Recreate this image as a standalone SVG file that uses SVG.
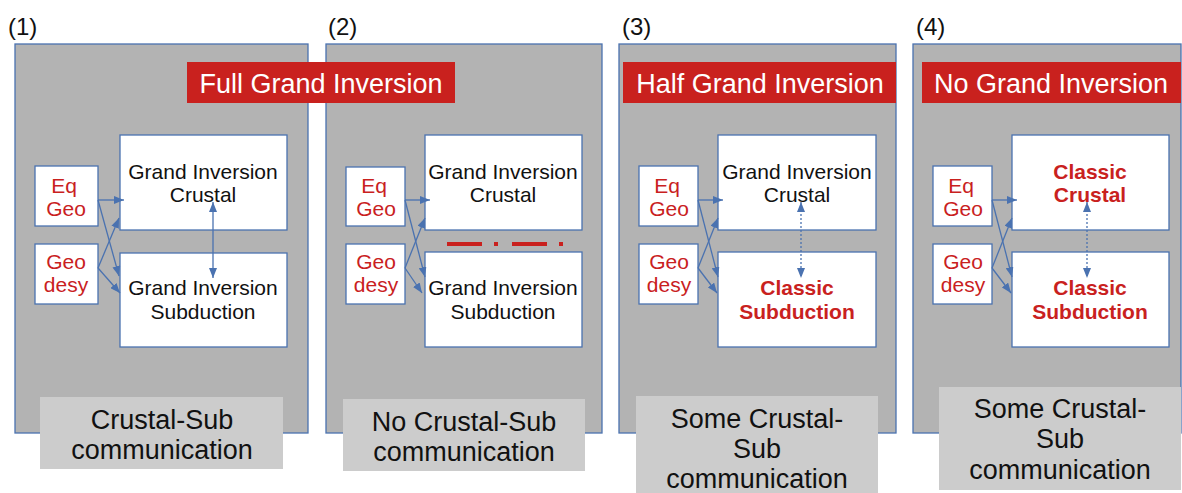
<svg xmlns="http://www.w3.org/2000/svg" width="1182" height="493" viewBox="0 0 1182 493">
  <style>
    .panel { fill: #b3b3b3; stroke: #4a72b0; stroke-width: 1.3; }
    .box { fill: #ffffff; stroke: #4a72b0; stroke-width: 1.3; }
    .title-bg { fill: #c9211e; }
    .note-bg { fill: #cccccc; }
    text { font-family: "Liberation Sans", Arial, sans-serif; text-anchor: middle; }
    .num { font-size: 24px; fill: #111111; text-anchor: start; }
    .title { font-size: 27px; fill: #ffffff; }
    .src { font-size: 21px; fill: #c9211e; }
    .lbl { font-size: 21px; fill: #111111; }
    .bold { font-size: 21px; fill: #c9211e; font-weight: bold; }
    .note { font-size: 27px; fill: #111111; }
    .link { stroke: #4a72b0; stroke-width: 1.3; fill: none; marker-end: url(#arrow); }
    .both { stroke: #4a72b0; stroke-width: 1.3; fill: none; marker-end: url(#arrow); marker-start: url(#arrow); }
    .dotted { stroke-dasharray: 2 2; }
    .break { stroke: #c9211e; stroke-width: 4; fill: none; }
  </style>
  <defs>
    <marker id="arrow" viewBox="0 0 10 8" refX="10" refY="4" markerWidth="10" markerHeight="8" markerUnits="userSpaceOnUse" orient="auto-start-reverse">
      <path d="M0,0 L10,4 L0,8 z" fill="#4a72b0"/>
    </marker>
  </defs>

  <!-- panel backgrounds -->
  <g id="panel1">
    <text class="num" x="8" y="35">(1)</text>
    <rect class="panel" x="15" y="44" width="293" height="389"/>
  </g>
  <g id="panel2">
    <text class="num" x="328" y="35">(2)</text>
    <rect class="panel" x="326" y="44" width="276" height="389"/>
  </g>
  <g id="panel3">
    <text class="num" x="622" y="35">(3)</text>
    <rect class="panel" x="619" y="44" width="277" height="389"/>
  </g>
  <g id="panel4">
    <text class="num" x="916" y="35">(4)</text>
    <rect class="panel" x="913" y="44" width="268" height="389"/>
  </g>

  <!-- panel titles -->
  <g id="title1">
    <rect class="title-bg" x="187" y="62" width="268" height="41"/>
    <text class="title" x="321" y="93">Full Grand Inversion</text>
  </g>
  <g id="title3">
    <rect class="title-bg" x="623" y="62" width="273" height="41"/>
    <text class="title" x="760" y="93">Half Grand Inversion</text>
  </g>
  <g id="title4">
    <rect class="title-bg" x="922" y="62" width="259" height="41"/>
    <text class="title" x="1051" y="93">No Grand Inversion</text>
  </g>

  <!-- panel 1 nodes -->
  <g id="p1-eqgeo">
    <rect class="box" x="35" y="166" width="63" height="60"/>
    <text class="src" x="64" y="193">Eq</text>
    <text class="src" x="66" y="216">Geo</text>
  </g>
  <g id="p1-geodesy">
    <rect class="box" x="35" y="244" width="63" height="60"/>
    <text class="src" x="66" y="269">Geo</text>
    <text class="src" x="66" y="292">desy</text>
  </g>
  <g id="p1-crustal">
    <rect class="box" x="120" y="135" width="167" height="95"/>
    <text class="lbl" x="203" y="179">Grand Inversion</text>
    <text class="lbl" x="203" y="202">Crustal</text>
  </g>
  <g id="p1-subduction">
    <rect class="box" x="120" y="253" width="167" height="94"/>
    <text class="lbl" x="203" y="295">Grand Inversion</text>
    <text class="lbl" x="203" y="319">Subduction</text>
  </g>

  <!-- panel 2 nodes -->
  <g id="p2-eqgeo">
    <rect class="box" x="346" y="167" width="59" height="59"/>
    <text class="src" x="374" y="193">Eq</text>
    <text class="src" x="376" y="216">Geo</text>
  </g>
  <g id="p2-geodesy">
    <rect class="box" x="346" y="244" width="59" height="60"/>
    <text class="src" x="376" y="269">Geo</text>
    <text class="src" x="376" y="292">desy</text>
  </g>
  <g id="p2-crustal">
    <rect class="box" x="425" y="135" width="157" height="95"/>
    <text class="lbl" x="503" y="179">Grand Inversion</text>
    <text class="lbl" x="503" y="202">Crustal</text>
  </g>
  <g id="p2-subduction">
    <rect class="box" x="425" y="252" width="157" height="95"/>
    <text class="lbl" x="503" y="295">Grand Inversion</text>
    <text class="lbl" x="503" y="319">Subduction</text>
  </g>

  <!-- panel 3 nodes -->
  <g id="p3-eqgeo">
    <rect class="box" x="639" y="166" width="59" height="60"/>
    <text class="src" x="667" y="193">Eq</text>
    <text class="src" x="669" y="216">Geo</text>
  </g>
  <g id="p3-geodesy">
    <rect class="box" x="639" y="244" width="59" height="60"/>
    <text class="src" x="669" y="269">Geo</text>
    <text class="src" x="669" y="292">desy</text>
  </g>
  <g id="p3-crustal">
    <rect class="box" x="718" y="135" width="158" height="95"/>
    <text class="lbl" x="797" y="179">Grand Inversion</text>
    <text class="lbl" x="797" y="202">Crustal</text>
  </g>
  <g id="p3-subduction">
    <rect class="box" x="718" y="252" width="158" height="95"/>
    <text class="bold" x="797" y="295">Classic</text>
    <text class="bold" x="797" y="319">Subduction</text>
  </g>

  <!-- panel 4 nodes -->
  <g id="p4-eqgeo">
    <rect class="box" x="933" y="166" width="59" height="60"/>
    <text class="src" x="961" y="193">Eq</text>
    <text class="src" x="963" y="216">Geo</text>
  </g>
  <g id="p4-geodesy">
    <rect class="box" x="933" y="244" width="59" height="60"/>
    <text class="src" x="963" y="269">Geo</text>
    <text class="src" x="963" y="292">desy</text>
  </g>
  <g id="p4-crustal">
    <rect class="box" x="1012" y="135" width="157" height="95"/>
    <text class="bold" x="1090" y="179">Classic</text>
    <text class="bold" x="1090" y="202">Crustal</text>
  </g>
  <g id="p4-subduction">
    <rect class="box" x="1012" y="252" width="157" height="95"/>
    <text class="bold" x="1090" y="295">Classic</text>
    <text class="bold" x="1090" y="319">Subduction</text>
  </g>

  <!-- communication notes -->
  <g id="note1">
    <rect class="note-bg" x="40" y="397" width="243" height="72"/>
    <text class="note" x="162" y="429">Crustal-Sub</text>
    <text class="note" x="162" y="459">communication</text>
  </g>
  <g id="note2">
    <rect class="note-bg" x="343" y="399" width="242" height="72"/>
    <text class="note" x="464" y="431">No Crustal-Sub</text>
    <text class="note" x="464" y="461">communication</text>
  </g>
  <g id="note3">
    <rect class="note-bg" x="636" y="396" width="242" height="97"/>
    <text class="note" x="757" y="428">Some Crustal-</text>
    <text class="note" x="757" y="458">Sub</text>
    <text class="note" x="757" y="488">communication</text>
  </g>
  <g id="note4">
    <rect class="note-bg" x="939" y="387" width="242" height="103"/>
    <text class="note" x="1060" y="418">Some Crustal-</text>
    <text class="note" x="1060" y="448">Sub</text>
    <text class="note" x="1060" y="479">communication</text>
  </g>

  <!-- connectors -->
  <g id="connectors">
    <!-- panel 1 -->
    <line class="link" x1="98" y1="200" x2="124" y2="200"/>
    <line class="link" x1="98" y1="200" x2="119" y2="276"/>
    <line class="link" x1="98" y1="268" x2="119" y2="218"/>
    <line class="link" x1="98" y1="268" x2="120" y2="293"/>
    <line class="both" x1="213" y1="202" x2="213" y2="278"/>
    <!-- panel 2 -->
    <line class="link" x1="405" y1="200" x2="430" y2="200"/>
    <line class="link" x1="405" y1="200" x2="425" y2="277"/>
    <line class="link" x1="405" y1="268" x2="425" y2="218"/>
    <line class="link" x1="405" y1="268" x2="422" y2="293"/>
    <path class="break" d="M447,244 H482 M494,244 H498 M512,244 H547 M559,244 H563"/>
    <!-- panel 3 -->
    <line class="link" x1="698" y1="200" x2="723" y2="200"/>
    <line class="link" x1="698" y1="200" x2="718" y2="277"/>
    <line class="link" x1="698" y1="268" x2="718" y2="218"/>
    <line class="link" x1="698" y1="268" x2="717" y2="293"/>
    <line class="both dotted" x1="801" y1="202" x2="801" y2="278"/>
    <!-- panel 4 -->
    <line class="link" x1="992" y1="200" x2="1017" y2="200"/>
    <line class="link" x1="992" y1="200" x2="1012" y2="277"/>
    <line class="link" x1="992" y1="268" x2="1012" y2="218"/>
    <line class="link" x1="992" y1="268" x2="1011" y2="293"/>
    <line class="both dotted" x1="1087" y1="202" x2="1087" y2="278"/>
  </g>
</svg>
